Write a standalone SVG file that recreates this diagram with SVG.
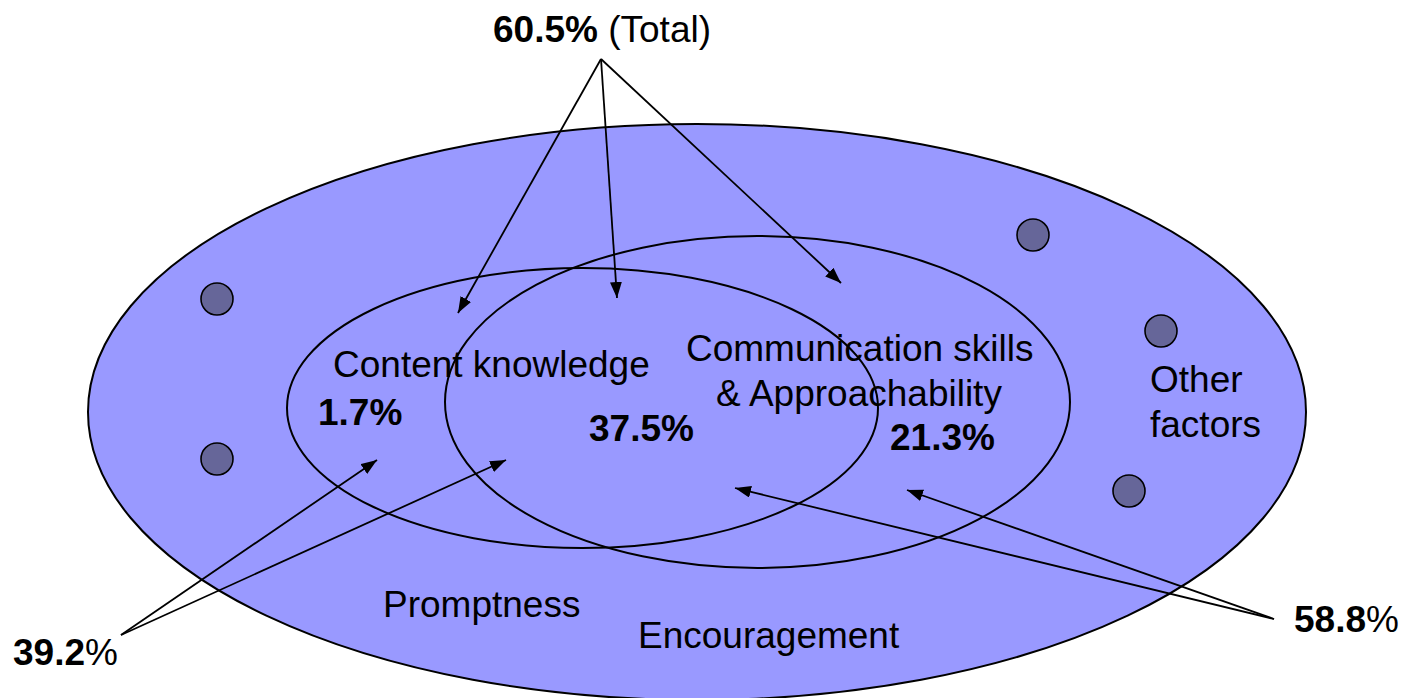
<svg xmlns="http://www.w3.org/2000/svg" width="1403" height="698" viewBox="0 0 1403 698">
  <style>
    .ring { fill: none; stroke: #000; stroke-width: 2; }
    .dot { fill: #666699; stroke: #000; stroke-width: 1.6; }
    .link { fill: none; stroke: #000; stroke-width: 1.8; marker-end: url(#head); }
    text { font-family: "Liberation Sans", Arial, sans-serif; font-size: 37px; fill: #000; }
    .b { font-weight: bold; }
  </style>
  <defs>
    <marker id="head" viewBox="0 0 16 12" refX="16" refY="6" markerWidth="16" markerHeight="12" markerUnits="userSpaceOnUse" orient="auto">
      <path d="M0,0 L16,6 L0,12 z" fill="#000"/>
    </marker>
  </defs>

  <rect width="1403" height="698" fill="#fff"/>

  <!-- outer set -->
  <g id="outer">
    <ellipse cx="697" cy="412" rx="609" ry="288" fill="#9999FF" stroke="#000" stroke-width="2"/>
    <circle class="dot" cx="217" cy="299" r="16"/>
    <circle class="dot" cx="217" cy="459" r="16"/>
    <circle class="dot" cx="1033" cy="235" r="16"/>
    <circle class="dot" cx="1161" cy="331" r="16"/>
    <circle class="dot" cx="1129" cy="491" r="16"/>
    <text x="1150" y="392">Other</text>
    <text x="1150" y="437">factors</text>
    <text x="383" y="617">Promptness</text>
    <text x="638" y="648">Encouragement</text>
  </g>

  <g id="content-knowledge">
    <ellipse class="ring" cx="582.5" cy="408" rx="295.5" ry="140"/>
    <text x="333" y="377">Content knowledge</text>
    <text class="b" x="318" y="425">1.7%</text>
  </g>

  <g id="communication">
    <ellipse class="ring" cx="757.5" cy="402" rx="312.5" ry="166"/>
    <text x="686" y="361">Communication skills</text>
    <text x="716" y="406">&amp; Approachability</text>
    <text class="b" x="890" y="450">21.3%</text>
  </g>

  <g id="overlap">
    <text class="b" x="589" y="441">37.5%</text>
  </g>

  <!-- connectors -->
  <g id="connectors">
    <line class="link" x1="601" y1="59" x2="458" y2="313"/>
    <line class="link" x1="601" y1="59" x2="617" y2="298"/>
    <line class="link" x1="601" y1="59" x2="841" y2="283"/>
    <line class="link" x1="121" y1="635" x2="377" y2="460"/>
    <line class="link" x1="121" y1="635" x2="506" y2="460"/>
    <line class="link" x1="1274" y1="619" x2="907" y2="490"/>
    <line class="link" x1="1274" y1="619" x2="735" y2="488"/>
  </g>

  <g id="labels">
    <text x="493" y="42"><tspan class="b">60.5%</tspan> (Total)</text>
    <text x="13" y="665"><tspan class="b">39.2</tspan>%</text>
    <text x="1294" y="632"><tspan class="b">58.8</tspan>%</text>
  </g>
</svg>
